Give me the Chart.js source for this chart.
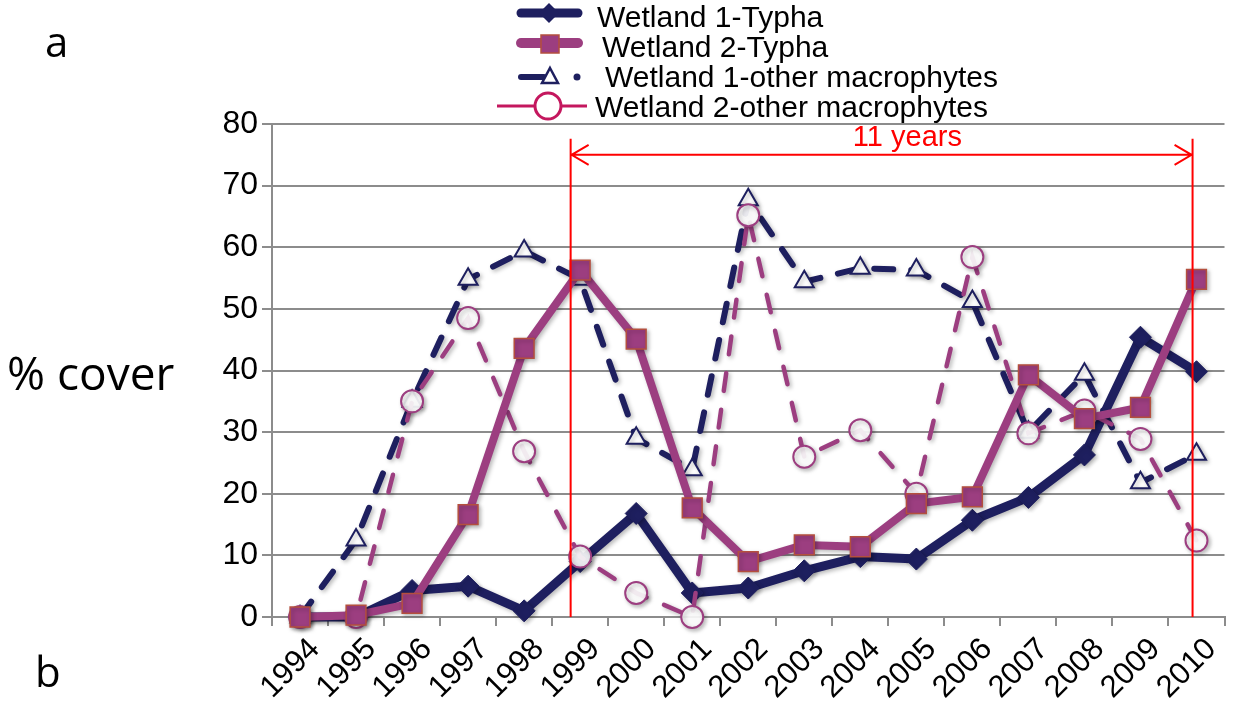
<!DOCTYPE html>
<html>
<head>
<meta charset="utf-8">
<script src="https://cdn.jsdelivr.net/npm/chart.js@4.4.0/dist/chart.umd.min.js"></script>
<style>
  html, body { margin: 0; padding: 0; background: #ffffff; }
  #wrap { width: 1240px; height: 705px; position: relative; }
</style>
</head>
<body>
<div id="wrap"><canvas id="chart" width="1240" height="705"></canvas></div>
<script>
// Survey years
const years = ['1994','1995','1996','1997','1998','1999','2000','2001','2002',
               '2003','2004','2005','2006','2007','2008','2009','2010'];

// Percent cover per wetland and vegetation group
const wetland1Typha = [0, 0, 4.3, 5, 1, 9, 16.8, 3.9, 4.7, 7.5, 9.8, 9.4, 15.7, 19.4, 26.3, 45.4, 39.8];
const wetland2Typha = [0, 0.3, 2.2, 16.6, 43.6, 56.3, 45.1, 17.7, 9, 11.7, 11.4, 18.4, 19.5, 39.3, 32.2, 34, 54.8];
const wetland1Other = [0, 12.5, 35, 54.8, 59.4, 54.8, 29, 23.9, 67.7, 54.4, 56.6, 56.3, 51.2, 30, 39.4, 21.8, 26.4];
const wetland2Other = [0, 0, 35, 48.5, 26.9, 9.8, 3.9, 0, 65.2, 26, 30.3, 20, 58.4, 29.8, 33.5, 28.9, 12.4];

// Value axis ticks
const yTicks = [0, 10, 20, 30, 40, 50, 60, 70, 80];

// Span marker between two survey years
const spanText = '11 years';
const spanFrom = 4.83;   // just before 1999
const spanTo = 15.93;    // just before 2010
const spanTop = 77.6;
const spanArrow = 75;
const spanTextAt = 76.4;
const spanTextX = 10.84;

const NAVY = '#1e1f5f';
const PURPLE = '#9c3e80';
const SQUARE_EDGE = '#b44f3e';
const CRIMSON = '#c4175e';
const RED = '#ff0000';
const GRID = '#8c8c8c';

const seriesLabels = ['Wetland 1-Typha', 'Wetland 2-Typha', 'Wetland 1-other macrophytes', 'Wetland 2-other macrophytes'];

const shadowPlugin = {
  id: 'softShadow',
  beforeDatasetDraw(chart) {
    const c = chart.ctx;
    c.save();
    c.shadowColor = 'rgba(0,0,0,0.28)';
    c.shadowBlur = 4;
    c.shadowOffsetX = 2;
    c.shadowOffsetY = 2;
  },
  afterDatasetDraw(chart) {
    chart.ctx.restore();
  }
};

const spanPlugin = {
  id: 'spanMarker',
  afterDatasetsDraw(chart) {
    const { ctx, scales: { x, y } } = chart;
    const x0 = x.getPixelForValue(spanFrom);
    const x1 = x.getPixelForValue(spanTo);
    const yt = y.getPixelForValue(spanTop);
    const ya = y.getPixelForValue(spanArrow);
    const yb = y.getPixelForValue(0);
    ctx.save();
    ctx.strokeStyle = RED;
    ctx.lineWidth = 2;
    ctx.beginPath();
    ctx.moveTo(x0, yt); ctx.lineTo(x0, yb);
    ctx.moveTo(x1, yt); ctx.lineTo(x1, yb);
    ctx.moveTo(x0 + 1, ya); ctx.lineTo(x1 - 1, ya);
    ctx.moveTo(x0 + 18, ya - 10); ctx.lineTo(x0 + 1, ya); ctx.lineTo(x0 + 18, ya + 10);
    ctx.moveTo(x1 - 18, ya - 10); ctx.lineTo(x1 - 1, ya); ctx.lineTo(x1 - 18, ya + 10);
    ctx.stroke();
    ctx.fillStyle = RED;
    ctx.font = '29px "Liberation Sans", Arial, sans-serif';
    ctx.textAlign = 'center';
    ctx.textBaseline = 'alphabetic';
    ctx.fillText(spanText, x.getPixelForValue(spanTextX), y.getPixelForValue(spanTextAt));
    ctx.restore();
  }
};

function drawDiamond(ctx, cx, cy, r) {
  ctx.beginPath();
  ctx.moveTo(cx, cy - r); ctx.lineTo(cx + r, cy); ctx.lineTo(cx, cy + r); ctx.lineTo(cx - r, cy);
  ctx.closePath();
}

const decorPlugin = {
  id: 'decor',
  afterDraw(chart) {
    const ctx = chart.ctx;
    ctx.save();
    ctx.lineCap = 'round';

    // Legend row 1: thick navy line with diamond
    ctx.strokeStyle = NAVY; ctx.lineWidth = 9;
    ctx.beginPath(); ctx.moveTo(521, 13); ctx.lineTo(578, 13); ctx.stroke();
    ctx.fillStyle = NAVY; drawDiamond(ctx, 549, 13, 10); ctx.fill();

    // Legend row 2: thick purple line with square
    ctx.strokeStyle = PURPLE; ctx.lineWidth = 10;
    ctx.beginPath(); ctx.moveTo(521, 43); ctx.lineTo(578, 43); ctx.stroke();
    ctx.fillStyle = PURPLE; ctx.fillRect(541, 35, 18, 18);
    ctx.strokeStyle = SQUARE_EDGE; ctx.lineWidth = 1.5; ctx.strokeRect(541, 35, 18, 18);

    // Legend row 3: navy dash, triangle, dot
    ctx.strokeStyle = NAVY; ctx.lineWidth = 6;
    ctx.beginPath(); ctx.moveTo(521, 77); ctx.lineTo(544, 77); ctx.stroke();
    ctx.fillStyle = '#ffffff'; ctx.lineWidth = 2.5;
    ctx.beginPath(); ctx.moveTo(550, 68); ctx.lineTo(558, 83); ctx.lineTo(542, 83); ctx.closePath();
    ctx.fill(); ctx.stroke();
    ctx.fillStyle = NAVY; ctx.beginPath(); ctx.arc(577, 77, 3.5, 0, Math.PI * 2); ctx.fill();

    // Legend row 4: thin crimson line with open circle
    ctx.strokeStyle = CRIMSON; ctx.lineWidth = 3; ctx.lineCap = 'butt';
    ctx.beginPath(); ctx.moveTo(497, 106); ctx.lineTo(587, 106); ctx.stroke();
    ctx.fillStyle = '#ffffff';
    ctx.beginPath(); ctx.arc(548, 106, 13, 0, Math.PI * 2); ctx.fill(); ctx.stroke();

    // Legend texts
    ctx.fillStyle = '#000000';
    ctx.font = '30px "Liberation Sans", Arial, sans-serif';
    ctx.textBaseline = 'alphabetic';
    ctx.textAlign = 'left';
    ctx.fillText(seriesLabels[0], 597, 27);
    ctx.fillText(seriesLabels[1], 602, 57);
    ctx.fillText(seriesLabels[2], 605, 87);
    ctx.fillText(seriesLabels[3], 595, 117);

    // Axis title and panel letters
    ctx.font = '46px "Open Sans", "DejaVu Sans", sans-serif';
    ctx.fillText('% cover', 7, 390);
    ctx.font = '42px "Open Sans", "DejaVu Sans", sans-serif';
    ctx.fillText('a', 45, 57);
    ctx.fillText('b', 35, 687);
    ctx.restore();
  }
};

const ctx = document.getElementById('chart').getContext('2d');
new Chart(ctx, {
  type: 'line',
  data: {
    labels: years,
    datasets: [
      {
        label: seriesLabels[1], data: wetland2Typha, order: 0,
        borderColor: PURPLE, borderWidth: 8, backgroundColor: PURPLE,
        pointStyle: 'rect', pointRadius: 14, pointBorderColor: SQUARE_EDGE, pointBorderWidth: 1.5,
        pointBackgroundColor: PURPLE, tension: 0, clip: false, borderJoinStyle: 'round'
      },
      {
        label: seriesLabels[3], data: wetland2Other, order: 1,
        borderColor: PURPLE, borderWidth: 4.5, borderDash: [18, 19], borderCapStyle: 'round',
        pointStyle: 'circle', pointRadius: 11, pointBorderColor: PURPLE, pointBorderWidth: 2,
        pointBackgroundColor: 'rgba(255,255,255,0.9)', tension: 0, clip: false
      },
      {
        label: seriesLabels[0], data: wetland1Typha, order: 2,
        borderColor: NAVY, borderWidth: 9, backgroundColor: NAVY,
        pointStyle: 'rectRot', pointRadius: 11, pointBorderColor: NAVY, pointBorderWidth: 1,
        pointBackgroundColor: NAVY, tension: 0, clip: false, borderJoinStyle: 'round'
      },
      {
        label: seriesLabels[2], data: wetland1Other, order: 3,
        borderColor: NAVY, borderWidth: 6, borderDash: [19, 18], borderCapStyle: 'round',
        pointStyle: 'triangle', pointRadius: 11, pointBorderColor: NAVY, pointBorderWidth: 2,
        pointBackgroundColor: '#ffffff', tension: 0, clip: false
      }
    ]
  },
  options: {
    responsive: false,
    animation: false,
    events: [],
    layout: { padding: { top: 124, right: 8, left: 0, bottom: 0 } },
    plugins: { legend: { display: false }, tooltip: { enabled: false } },
    scales: {
      x: {
        type: 'category',
        offset: true,
        grid: { display: true, drawOnChartArea: false, drawTicks: true, tickLength: 9, offset: true, color: GRID, lineWidth: 2 },
        border: { display: true, color: GRID, width: 2 },
        ticks: {
          autoSkip: false, maxRotation: 45, minRotation: 45, color: '#000000',
          font: { family: '"Liberation Sans", Arial, sans-serif', size: 31 },
          padding: 5, labelOffset: 15
        },
        afterFit: s => { s.height = 88; }
      },
      y: {
        min: 0, max: 80,
        afterBuildTicks: s => { s.ticks = yTicks.map(v => ({ value: v })); },
        ticks: { color: '#000000', font: { family: '"Liberation Sans", Arial, sans-serif', size: 32 }, padding: 4 },
        grid: { color: GRID, lineWidth: 2, tickLength: 10 },
        border: { color: GRID, width: 2 },
        afterFit: s => { s.width = 272; }
      }
    }
  },
  plugins: [shadowPlugin, spanPlugin, decorPlugin]
});
</script>
</body>
</html>
